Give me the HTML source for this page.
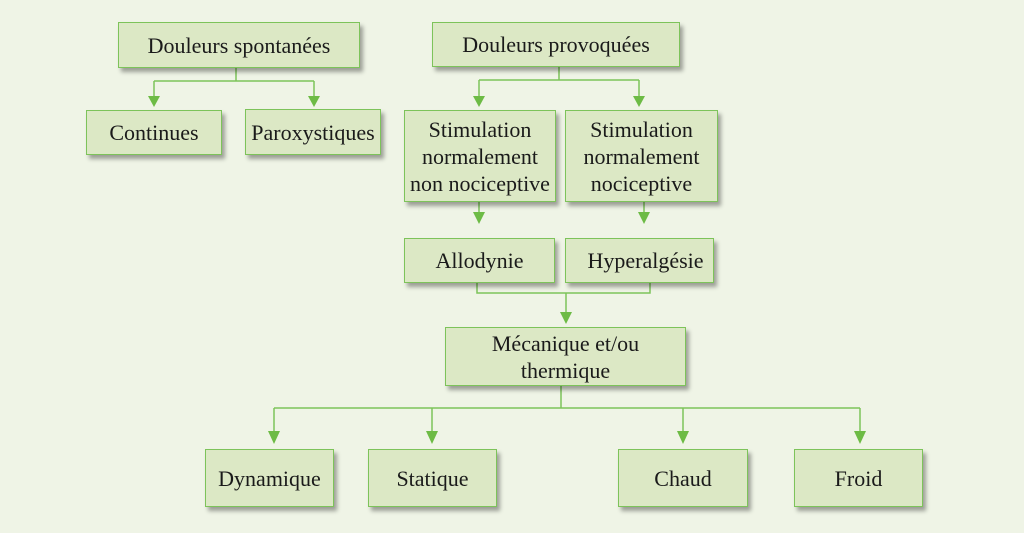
<!DOCTYPE html>
<html><head><meta charset="utf-8"><style>
html,body{margin:0;padding:0}
body{width:1024px;height:533px;background:#eff4e6;position:relative;overflow:hidden;font-family:"Liberation Serif",serif;color:#1a1a1a}
.b{position:absolute;box-sizing:border-box;background:#dce8c5;border:1.5px solid #7dc35a;box-shadow:3px 4px 4px rgba(0,0,0,0.35);display:flex;align-items:center;justify-content:center;text-align:center;font-size:22px;line-height:27px;white-space:nowrap}
svg{position:absolute;left:0;top:0}
</style></head><body>
<svg width="1024" height="533">
<g stroke="#7dc35a" stroke-width="1.5" fill="none">
<path d="M236 68V81M154 81H314M154 81V98M314 81V98"/>
<path d="M559 67V80M479 80H639M479 80V98M639 80V98"/>
<path d="M479 202V214M644 202V214"/>
<path d="M477 283V293H650V283M566 293V314"/>
<path d="M561 386V408M274 408H860M274 408V433M432 408V433M683 408V433M860 408V433"/>
</g>
<g fill="#6dbb45">
<path d="M148 96H160L154 107Z"/><path d="M308 96H320L314 107Z"/>
<path d="M473 96H485L479 107Z"/><path d="M633 96H645L639 107Z"/>
<path d="M473 212H485L479 224Z"/><path d="M638 212H650L644 224Z"/>
<path d="M560 312H572L566 324Z"/>
<path d="M268 431H280L274 444Z"/><path d="M426 431H438L432 444Z"/><path d="M677 431H689L683 444Z"/><path d="M854 431H866L860 444Z"/>
</g>
</svg>
<div class="b" style="left:118px;top:22px;width:242px;height:46px">Douleurs spontanées</div>
<div class="b" style="left:432px;top:22px;width:248px;height:45px">Douleurs provoquées</div>
<div class="b" style="left:86px;top:110px;width:136px;height:45px">Continues</div>
<div class="b" style="left:245px;top:109px;width:136px;height:46px">Paroxystiques</div>
<div class="b" style="left:404px;top:110px;width:152px;height:92px">Stimulation<br>normalement<br>non nociceptive</div>
<div class="b" style="left:565px;top:110px;width:153px;height:92px">Stimulation<br>normalement<br>nociceptive</div>
<div class="b" style="left:404px;top:238px;width:151px;height:45px">Allodynie</div>
<div class="b" style="left:565px;top:238px;width:149px;height:45px;padding-left:12px">Hyperalgésie</div>
<div class="b" style="left:445px;top:327px;width:241px;height:59px">Mécanique et/ou<br>thermique</div>
<div class="b" style="left:205px;top:449px;width:129px;height:58px">Dynamique</div>
<div class="b" style="left:368px;top:449px;width:129px;height:58px">Statique</div>
<div class="b" style="left:618px;top:449px;width:130px;height:58px">Chaud</div>
<div class="b" style="left:794px;top:449px;width:129px;height:58px">Froid</div>
</body></html>
